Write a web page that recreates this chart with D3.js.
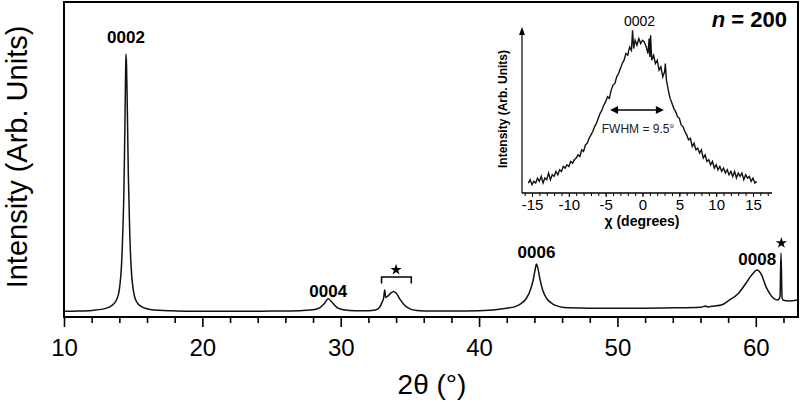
<!DOCTYPE html>
<html>
<head>
<meta charset="utf-8">
<script src="https://cdn.jsdelivr.net/npm/d3@7"></script>
<style>
  body { margin: 0; background: #fff; }
  svg { font-family: "Liberation Sans", Arial, sans-serif; }
</style>
</head>
<body>
<svg id="chart" width="800" height="403"></svg>
<script>
// main XRD scan: 2theta (deg) and intensity (arb.)
var twoTheta = [10, 11, 12, 12.8, 13.3, 13.6, 13.8, 13.95, 14.05, 14.15, 14.25, 14.33, 14.4, 14.45, 14.48, 14.52, 14.58, 14.65, 14.75, 14.85, 14.95, 15.1, 15.3, 15.6, 16, 16.5, 17.5, 19, 21, 23, 25, 27, 28, 28.5, 28.8, 29.1, 29.4, 29.8, 30.3, 31, 32, 32.5, 32.8, 33, 33.1, 33.18, 33.25, 33.4, 33.6, 33.8, 34, 34.3, 34.6, 35, 35.5, 36.5, 38, 40, 42, 42.6, 43, 43.4, 43.7, 43.9, 44.05, 44.15, 44.25, 44.4, 44.6, 44.9, 45.3, 45.8, 46.5, 48, 50, 52, 54, 56, 56.4, 56.5, 57, 57.5, 58.1, 58.7, 59.3, 59.7, 60.1, 60.4, 60.75, 61, 61.2, 61.6, 61.75, 61.82, 61.9, 62, 62.4, 63];
var intensity = [1.8, 1.9, 2.1, 2.5, 3.2, 4.2, 5.5, 7.5, 10.5, 16, 27, 40, 60, 77, 83.5, 80, 65, 45, 27, 16, 10.5, 6.5, 4.5, 3.3, 2.6, 2.2, 2.0, 1.8, 1.8, 1.8, 1.9, 2.0, 2.3, 3.0, 4.2, 5.8, 4.5, 2.8, 2.2, 2.0, 2.0, 2.2, 3.0, 4.8, 6.0, 8.6, 6.2, 6.6, 7.5, 8.1, 7.6, 5.5, 3.8, 2.6, 2.1, 1.9, 1.9, 2.0, 2.8, 3.3, 4.2, 5.8, 8.5, 11.5, 15, 16.8, 15.5, 12, 8.5, 5.8, 4.2, 3.3, 2.9, 2.8, 2.8, 2.8, 2.9, 3.1, 3.5, 3.2, 3.5, 3.8, 5.4, 7.3, 10.8, 13.3, 14.9, 13.5, 9.5, 7.5, 6.3, 5.4, 6.5, 20.3, 6.0, 5.3, 5.1, 5.4];

// peak labels
var peakNames = ["0002", "0004", "0006", "0008"];
var peakPos = [14.48, 29.1, 44.15, 60.1];
var peakLabelY = [87, 6.5, 18.8, 16.4];

var xMajorTicks = [10, 20, 30, 40, 50, 60];
var xMinorTicks = [12, 14, 16, 18, 22, 24, 26, 28, 32, 34, 36, 38, 42, 44, 46, 48, 52, 54, 56, 58, 62];

// inset: rocking curve around 0002
var chi = [-15.5, -15.25, -15, -14.75, -14.5, -14.25, -14, -13.75, -13.5, -13.25, -13, -12.75, -12.5, -12.25, -12, -11.75, -11.5, -11.25, -11, -10.75, -10.5, -10.25, -10, -9.75, -9.5, -9.25, -9, -8.75, -8.5, -8.25, -8, -7.75, -7.5, -7.25, -7, -6.75, -6.5, -6.25, -6, -5.75, -5.5, -5.25, -5, -4.75, -4.5, -4.25, -4, -3.75, -3.5, -3.25, -3, -2.75, -2.5, -2.25, -2, -1.75, -1.5, -1.35, -1.2, -1, -0.75, -0.5, -0.25, 0, 0.25, 0.5, 0.75, 0.9, 1, 1.1, 1.25, 1.5, 1.75, 2, 2.25, 2.5, 2.75, 3, 3.1, 3.25, 3.5, 3.75, 4, 4.25, 4.5, 4.75, 5, 5.25, 5.5, 5.75, 6, 6.25, 6.5, 6.75, 7, 7.25, 7.5, 7.75, 8, 8.25, 8.5, 8.75, 9, 9.25, 9.5, 9.75, 10, 10.25, 10.5, 10.75, 11, 11.25, 11.5, 11.75, 12, 12.25, 12.5, 12.75, 13, 13.25, 13.5, 13.75, 14, 14.25, 14.5, 14.75, 15, 15.25, 15.5];
var chiIntensity = [6, 8, 5, 7, 6, 9, 7, 10, 6, 9, 8, 12, 8, 11, 10, 13, 11, 14, 13, 16, 15, 17, 16, 19, 18, 20, 21, 23, 22, 26, 25, 29, 30, 33, 35, 37, 40, 42, 45, 48, 50, 53, 55, 58, 57, 62, 65, 66, 70, 72, 75, 78, 80, 84, 83, 88, 86, 98, 87, 92, 89, 93, 90, 92, 91, 88, 84, 93, 82, 95, 80, 83, 78, 80, 74, 76, 70, 73, 78, 68, 62, 57, 54, 51, 49, 46, 45, 41, 40, 37, 35, 32, 33, 28, 30, 26, 27, 24, 26, 21, 23, 19, 20, 17, 19, 15, 17, 14, 16, 13, 15, 12, 14, 11, 13, 10, 13, 9, 12, 10, 12, 8, 11, 9, 10, 7, 9, 6, 7];
var chiTickLabels = [-15, -10, -5, 0, 5, 10, 15];
var fwhm = [-4.4, 2.9];

const svg = d3.select("#chart");

// ---- main panel ----
const frame = { left: 64, right: 798, top: 2, bottom: 317 };

const x = d3.scaleLinear().domain([10, 63.05]).range([frame.left, frame.right]);
const y = d3.scaleLinear().domain([0, 100]).range([frame.bottom, frame.top]);

// minor ticks
svg.append("g")
  .attr("transform", `translate(0,${frame.bottom})`)
  .call(d3.axisBottom(x).tickValues(xMinorTicks).tickSize(6).tickFormat(""))
  .call(g => g.select(".domain").remove())
  .selectAll("line").attr("stroke", "#000").attr("stroke-width", 1.6);

// major ticks + labels
svg.append("g")
  .attr("transform", `translate(0,${frame.bottom})`)
  .call(d3.axisBottom(x).tickValues(xMajorTicks).tickSize(10).tickPadding(12))
  .call(g => g.select(".domain").remove())
  .call(g => g.selectAll("line").attr("stroke", "#000").attr("stroke-width", 1.6))
  .selectAll("text")
  .attr("fill", "#000")
  .style("font-size", "24px")
  .style("font-family", "Liberation Sans, Arial, sans-serif");

svg.append("rect")
  .attr("x", frame.left)
  .attr("y", frame.top)
  .attr("width", frame.right - frame.left)
  .attr("height", frame.bottom - frame.top)
  .attr("fill", "none")
  .attr("stroke", "#000")
  .attr("stroke-width", 2);

svg.append("defs").append("clipPath").attr("id", "mainClip")
  .append("rect")
  .attr("x", frame.left).attr("y", frame.top)
  .attr("width", frame.right - frame.left).attr("height", frame.bottom - frame.top);

const mainData = twoTheta.map((t, i) => ({ t: t, v: intensity[i] }));
const mainLine = d3.line()
  .x(d => x(d.t))
  .y(d => y(d.v))
  .curve(d3.curveMonotoneX);

svg.append("path")
  .datum(mainData)
  .attr("clip-path", "url(#mainClip)")
  .attr("d", mainLine)
  .attr("fill", "none")
  .attr("stroke", "#111")
  .attr("stroke-width", 1.5);

// axis titles
svg.append("text")
  .attr("x", 432)
  .attr("y", 394)
  .attr("text-anchor", "middle")
  .style("font-size", "28px")
  .text("2θ (°)");

svg.append("text")
  .attr("transform", "translate(27,157) rotate(-90)")
  .attr("text-anchor", "middle")
  .style("font-size", "29px")
  .text("Intensity (Arb. Units)");

// peak labels
svg.selectAll(".peak-label")
  .data(peakNames)
  .enter()
  .append("text")
  .attr("class", "peak-label")
  .attr("x", (d, i) => x(peakPos[i]))
  .attr("y", (d, i) => y(peakLabelY[i]))
  .attr("text-anchor", "middle")
  .style("font-size", "17px")
  .style("font-weight", "bold")
  .text(d => d);

// impurity markers
const star = d3.symbol().type(d3.symbolStar).size(40);
svg.append("path")
  .attr("d", star())
  .attr("transform", `translate(${x(61.85)},${y(23.5)})`)
  .attr("fill", "#000");

svg.append("path")
  .attr("d", `M${x(32.95)},${y(10.6)} V${y(12.7)} H${x(35.1)} V${y(10.6)}`)
  .attr("fill", "none")
  .attr("stroke", "#000")
  .attr("stroke-width", 1.5);

svg.append("path")
  .attr("d", star())
  .attr("transform", `translate(${x(34.0)},${y(15)})`)
  .attr("fill", "#000");

svg.append("text")
  .attr("x", 787)
  .attr("y", 27)
  .attr("text-anchor", "end")
  .style("font-size", "22px")
  .style("font-weight", "bold")
  .html('<tspan font-style="italic">n</tspan> = 200');

// ---- inset ----
const inset = { left: 522, right: 772, top: 27, bottom: 193 };
const xi = d3.scaleLinear().domain([-15, 15]).range([532, 753]);
const yi = d3.scaleLinear().domain([0, 100]).range([inset.bottom, inset.top]);

const chiTicks = d3.range(-16, 18, 1);
svg.append("g")
  .attr("transform", `translate(0,${inset.bottom})`)
  .call(d3.axisBottom(xi).tickValues(chiTicks).tickSize(3).tickFormat(""))
  .call(g => g.select(".domain").remove())
  .selectAll("line").attr("stroke", "#000").attr("stroke-width", 1);

svg.append("g")
  .attr("transform", `translate(0,${inset.bottom})`)
  .call(d3.axisBottom(xi).tickValues(chiTickLabels).tickSize(4).tickPadding(2)
    .tickFormat(d => String(d)))
  .call(g => g.select(".domain").remove())
  .call(g => g.selectAll("line").attr("stroke", "#000"))
  .selectAll("text")
  .attr("fill", "#000")
  .style("font-size", "15px")
  .style("font-family", "Liberation Sans, Arial, sans-serif");

svg.append("line")
  .attr("x1", inset.left).attr("x2", inset.right)
  .attr("y1", inset.bottom).attr("y2", inset.bottom)
  .attr("stroke", "#000").attr("stroke-width", 1.5);

svg.append("line")
  .attr("x1", inset.left).attr("x2", inset.left)
  .attr("y1", inset.bottom).attr("y2", inset.top + 4)
  .attr("stroke", "#000").attr("stroke-width", 1.2);

svg.append("path")
  .attr("d", `M${inset.left},${inset.top} l-3,8 h6 z`)
  .attr("fill", "#000");

const insetData = chi.map((c, i) => ({ c: c, v: chiIntensity[i] }));
svg.append("path")
  .datum(insetData)
  .attr("d", d3.line().x(d => xi(d.c)).y(d => yi(d.v)))
  .attr("fill", "none")
  .attr("stroke", "#111")
  .attr("stroke-width", 1.4);

svg.append("text")
  .attr("x", 642)
  .attr("y", 226)
  .attr("text-anchor", "middle")
  .style("font-size", "14px")
  .style("font-weight", "bold")
  .text("χ (degrees)");

svg.append("text")
  .attr("transform", "translate(507,109) rotate(-90)")
  .attr("text-anchor", "middle")
  .style("font-size", "12px")
  .style("font-weight", "bold")
  .text("Intensity (Arb. Units)");

svg.append("text")
  .attr("x", xi(-0.4))
  .attr("y", 26)
  .attr("text-anchor", "middle")
  .style("font-size", "14px")
  .text("0002");

// FWHM double arrow
const arrowY = yi(50);
svg.append("line")
  .attr("x1", xi(fwhm[0]) + 6).attr("x2", xi(fwhm[1]) - 6)
  .attr("y1", arrowY).attr("y2", arrowY)
  .attr("stroke", "#000").attr("stroke-width", 1.3);
svg.append("path")
  .attr("d", `M${xi(fwhm[0])},${arrowY} l8,-4 v8 z M${xi(fwhm[1])},${arrowY} l-8,-4 v8 z`)
  .attr("fill", "#000");

svg.append("text")
  .attr("x", 638)
  .attr("y", 133)
  .attr("text-anchor", "middle")
  .attr("fill", "#222")
  .style("font-size", "12px")
  .text("FWHM = 9.5°");
</script>
</body>
</html>
